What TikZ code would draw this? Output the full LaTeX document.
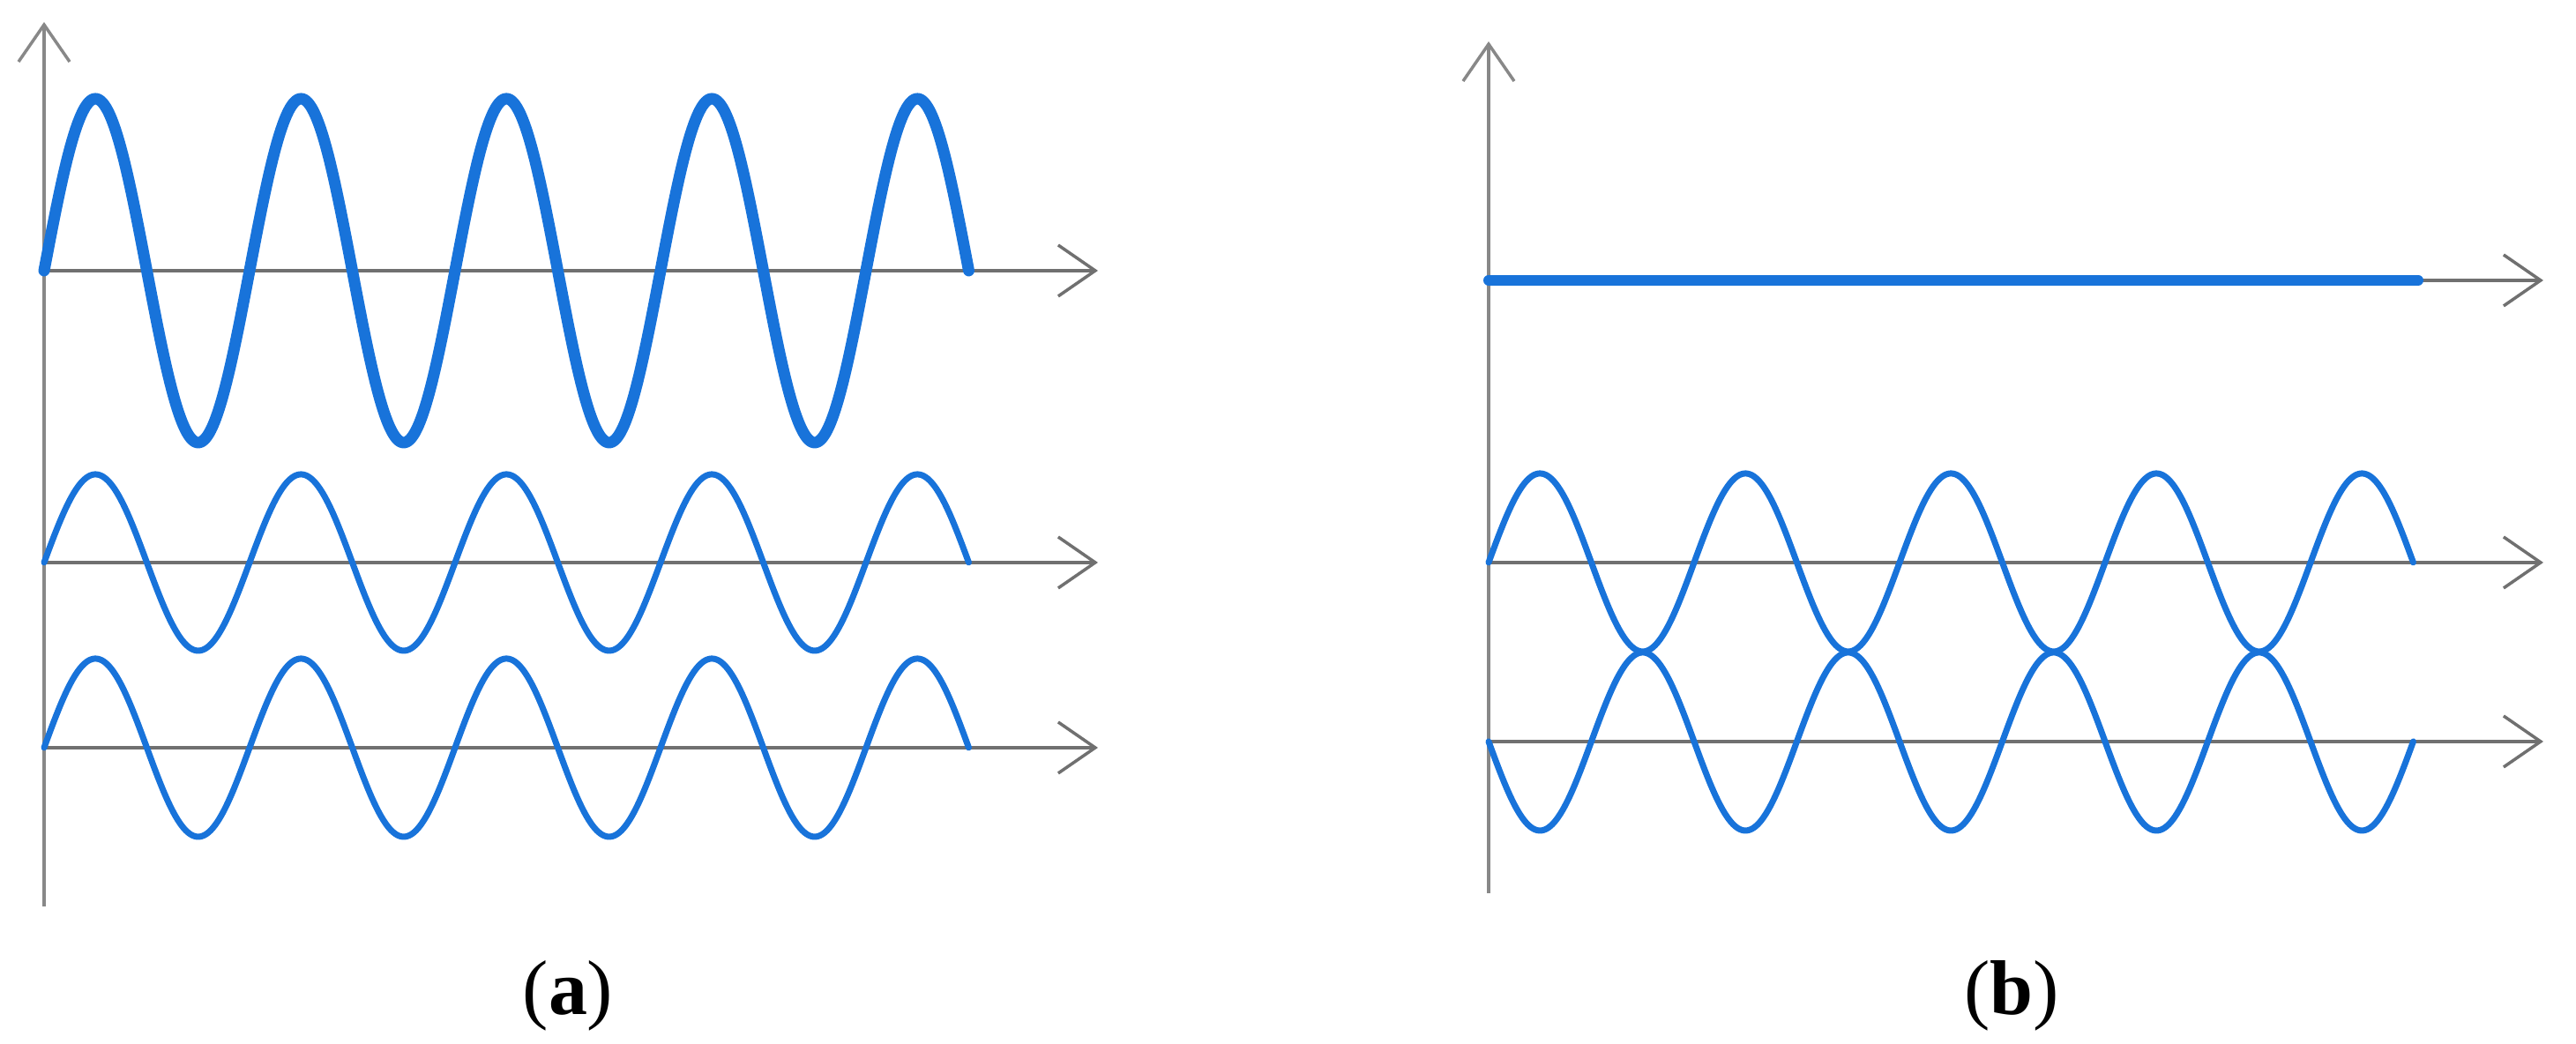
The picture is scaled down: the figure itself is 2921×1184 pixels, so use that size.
\documentclass[tikz,border=0pt]{standalone}
\usepackage{fontspec}
\setmainfont{Liberation Serif}
\usetikzlibrary{arrows.meta}
\definecolor{axisgray}{RGB}{112,112,112}
\definecolor{vaxisgray}{RGB}{136,136,136}
\definecolor{wavecol}{RGB}{24,115,218}
\begin{document}
\begin{tikzpicture}[x=0.1pt,y=-0.1pt,
  axis/.style={draw=axisgray,line width=0.35pt,-{Straight Barb[length=4.2pt,width=5.8pt]}},
  vaxis/.style={axis,draw=vaxisgray},
  thickwave/.style={draw=wavecol,line width=1.3pt,line cap=round,line join=round},
  thinwave/.style={draw=wavecol,line width=0.7pt,line cap=round,line join=round},
  lbl/.style={anchor=base,font=\fontsize{8.8pt}{10pt}\selectfont,inner sep=0pt}]
\useasboundingbox (0,0) rectangle (2921,1184);
% panel (a) coordinates
\coordinate (aO)  at (50,1028);
\coordinate (aY)  at (50,25);
\coordinate (a1s) at (50,307);  \coordinate (a1e) at (1245,307);
\coordinate (a2s) at (50,638);  \coordinate (a2e) at (1245,638);
\coordinate (a3s) at (50,848);  \coordinate (a3e) at (1245,848);
% panel (b) coordinates
\coordinate (bO)  at (1688,1013);
\coordinate (bY)  at (1688,47);
\coordinate (b1s) at (1688,318); \coordinate (b1e) at (2884,318);
\coordinate (b1w) at (2742,318);
\coordinate (b2s) at (1688,638); \coordinate (b2e) at (2884,638);
\coordinate (b3s) at (1688,841); \coordinate (b3e) at (2884,841);
% axes
\draw[vaxis] (aO) -- (aY);
\draw[axis] (a1s) -- (a1e);
\draw[axis] (a2s) -- (a2e);
\draw[axis] (a3s) -- (a3e);
\draw[vaxis] (bO) -- (bY);
\draw[axis] (b1s) -- (b1e);
\draw[axis] (b2s) -- (b2e);
\draw[axis] (b3s) -- (b3e);
% waves (a)
\draw[thickwave] plot[domain=0:1048.5,samples=700] ({50+\x},{307-195*sin(1.54506*\x)});
\draw[thinwave] plot[domain=0:1048.5,samples=700] ({50+\x},{638-100*sin(1.54506*\x)});
\draw[thinwave] plot[domain=0:1048.5,samples=700] ({50+\x},{848-101*sin(1.54506*\x)});
% waves (b)
\draw[draw=wavecol,line width=1.2pt,line cap=round] (b1s) -- (b1w);
\draw[thinwave] plot[domain=0:1048.5,samples=700] ({1688+\x},{638-101*sin(1.54506*\x)});
\draw[thinwave] plot[domain=0:1048.5,samples=700] ({1688+\x},{841+101*sin(1.54506*\x)});
% labels
\node[lbl] (la) at (644,1151) {(\textbf{a})};
\node[lbl] (lb) at (2281,1151) {(\textbf{b})};
\end{tikzpicture}
\end{document}
